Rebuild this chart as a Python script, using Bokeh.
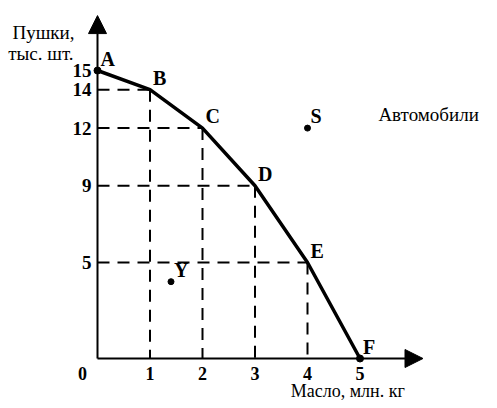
from bokeh.plotting import figure
from bokeh.models import Range1d, Arrow, NormalHead
from bokeh.core.properties import value
from bokeh.embed import file_html
from bokeh.resources import INLINE

# Data
butter = [0, 1, 2, 3, 4, 5]          # Масло, млн. кг
guns = [15, 14, 12, 9, 5, 0]         # Пушки, тыс. шт.
point_names = ["A", "B", "C", "D", "E", "F"]
extra_x = [4, 1.4]
extra_y = [12, 4]
extra_names = ["S", "Y"]
x_ticks = [1, 2, 3, 4, 5]
y_ticks = [5, 9, 12, 14, 15]
y_title = ["Пушки,", "тыс. шт."]
x_title = "Масло, млн. кг"
other_title = "Автомобили"

W, H = 489, 400
SX, SY = 52.5, 19.2    # px per unit
OX, OY = 97, 358       # origin within figure (px)

p = figure(width=W, height=H, output_backend="svg", toolbar_location=None,
           x_axis_type=None, y_axis_type=None, min_border=0,
           x_range=Range1d(-OX / SX, (W - OX) / SX),
           y_range=Range1d(-(H - OY) / SY, OY / SY))
p.outline_line_color = None
p.background_fill_color = "white"

serif = value("Liberation Serif")

# dashed guide lines
gx = butter[1:5]
gy = guns[1:5]
p.segment(x0=0, y0=gy, x1=gx, y1=gy, line_color="black", line_width=2, line_dash="12 8")
p.segment(x0=gx, y0=gy, x1=gx, y1=0, line_color="black", line_width=2, line_dash="12 8")

# axes with arrows
head_kw = dict(size=18, fill_color="black", line_color="black")
p.add_layout(Arrow(end=NormalHead(**head_kw), x_start=0, y_start=0, x_end=0, y_end=17.86,
                   line_width=2, line_color="black"))
p.add_layout(Arrow(end=NormalHead(**head_kw), x_start=0, y_start=0, x_end=6.2, y_end=0,
                   line_width=2, line_color="black"))

# curve
p.line(butter, guns, line_color="black", line_width=3.5, line_join="round")
p.scatter([butter[0], butter[-1]], [guns[0], guns[-1]], size=7, color="black")
p.scatter(extra_x, extra_y, size=6, color="black")

# point letters
p.text(butter + extra_x, guns + extra_y, text=point_names + extra_names,
       text_font=serif, text_font_style="bold", text_font_size="20px",
       text_align="left", text_baseline="bottom", x_offset=3, y_offset=-1, color="black")

# tick labels
p.text([0] * len(y_ticks), y_ticks, text=[str(t) for t in y_ticks],
       text_font=serif, text_font_style="bold", text_font_size="19px",
       text_align="right", text_baseline="middle", x_offset=-6, color="black")
p.text(x_ticks, [0] * len(x_ticks), text=[str(t) for t in x_ticks],
       text_font=serif, text_font_style="bold", text_font_size="18px",
       text_align="center", text_baseline="top", y_offset=8, color="black")
p.text([0], [0], text=["0"], text_font=serif, text_font_style="bold", text_font_size="18px",
       text_align="center", text_baseline="top", x_offset=-15, y_offset=8, color="black")

# titles
p.text([-1.62, -1.70], [16.98, 15.89], text=y_title, text_font=serif, text_font_size="19px",
       text_align="left", text_baseline="alphabetic", color="black")
p.text([5.35], [12.71], text=[other_title], text_font=serif, text_font_size="19px",
       text_align="left", text_baseline="alphabetic", color="black")
p.text([3.68], [-1.67], text=[x_title], text_font=serif, text_font_size="18px",
       text_align="left", text_baseline="alphabetic", color="black")

open("out.html", "w").write(file_html(p, INLINE))
